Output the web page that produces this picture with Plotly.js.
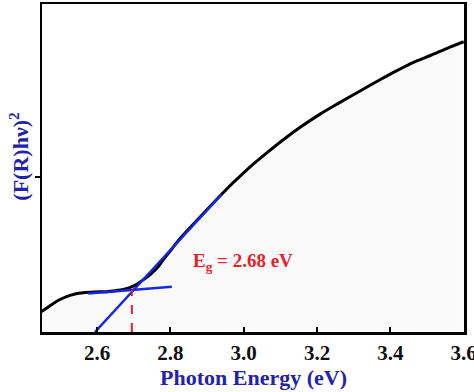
<!DOCTYPE html>
<html><head><meta charset="utf-8">
<script src="https://cdn.plot.ly/plotly-3.0.1.min.js"></script>
<style>html,body{margin:0;padding:0;background:#fff}</style>
</head><body><div id="chart" style="width:474px;height:392px"></div>
<script>
// Photon energy (eV) and (F(R)hν)^2 (arbitrary units)
const energy = [2.449,2.465,2.481,2.499,2.517,2.540,2.563,2.595,2.626,2.650,2.672,2.699,2.726,2.745,2.763,2.780,2.799,2.826,2.863,2.899,2.940,2.972,3.017,3.063,3.108,3.154,3.205,3.258,3.327,3.373,3.418,3.463,3.509,3.555,3.600];
const absorb = [6.2,7.5,8.7,9.9,10.8,11.6,12.0,12.2,12.3,12.6,13.0,14.0,15.9,17.5,19.4,21.9,24.6,28.4,32.9,37.2,42.0,45.6,50.3,54.6,58.6,62.4,66.2,69.7,74.1,77.0,79.7,82.2,84.3,86.5,88.5];
// Tangent fits
const steepX = [2.5945, 2.940];
const steepY = [0.0, 42.0];
const baseX = [2.576, 2.804];
const baseY = [11.7, 13.8];
// Band gap marker
const gapX = [2.695, 2.695];
const gapY = [0, 12.9];
const xTicks = [2.6, 2.8, 3.0, 3.2, 3.4, 3.6];
const xTickText = ['2.6','2.8','3.0','3.2','3.4','3.6'];
const yTicks = [47.3];

const serif = 'Liberation Serif, Times New Roman, serif';
const traces = [
  {x: energy, y: absorb, mode: 'lines', line: {color: '#000', width: 3, shape: 'spline', smoothing: 0.8}, fill: 'tozeroy', fillcolor: '#fafafa', hoverinfo: 'skip'},
  {x: steepX, y: steepY, mode: 'lines', line: {color: '#1428e6', width: 2.5}},
  {x: baseX, y: baseY, mode: 'lines', line: {color: '#1428e6', width: 2.5}},
  {x: gapX, y: gapY, mode: 'lines', line: {color: '#e8202a', width: 2, dash: 'dash'}}
];
const layout = {
  width: 474, height: 392,
  margin: {l: 42, r: 10, t: 4, b: 60},
  showlegend: false,
  paper_bgcolor: '#fff', plot_bgcolor: '#fff',
  xaxis: {range: [2.45, 3.6008], tickvals: xTicks, ticktext: xTickText, ticks: 'inside', ticklen: 5, tickwidth: 2, tickcolor: '#000',
    ticklabeloverflow: 'allow',
    showline: true, linecolor: '#000', linewidth: 2.5, mirror: true, showgrid: false, zeroline: false,
    tickfont: {family: serif, size: 21, color: '#111', weight: 'bold'}},
  yaxis: {range: [0, 100], tickvals: yTicks, ticktext: [''], ticks: 'outside', ticklen: 5, tickwidth: 2, tickcolor: '#000',
    showline: true, linecolor: '#000', linewidth: 2.5, mirror: true, showgrid: false, zeroline: false},
  annotations: [
    {xref: 'paper', yref: 'paper', x: 0.5, y: -0.14, xanchor: 'center', yanchor: 'middle', showarrow: false,
     text: 'Photon Energy (eV)', font: {family: serif, size: 22, color: '#2222aa', weight: 'bold'}},
    {xref: 'paper', yref: 'paper', x: -0.055, y: 0.537, xanchor: 'center', yanchor: 'middle', showarrow: false, textangle: -90,
     text: '(F(R)hν)<sup>2</sup>', font: {family: serif, size: 22, color: '#2222aa', weight: 'bold'}},
    {xref: 'x', yref: 'y', x: 2.997, y: 21.3, xanchor: 'center', yanchor: 'middle', showarrow: false,
     text: 'E<sub>g</sub> = 2.68 eV', font: {family: serif, size: 19, color: '#e8202a', weight: 'bold'}}
  ]
};
Plotly.newPlot('chart', traces, layout, {staticPlot: true, displayModeBar: false});
</script></body></html>
